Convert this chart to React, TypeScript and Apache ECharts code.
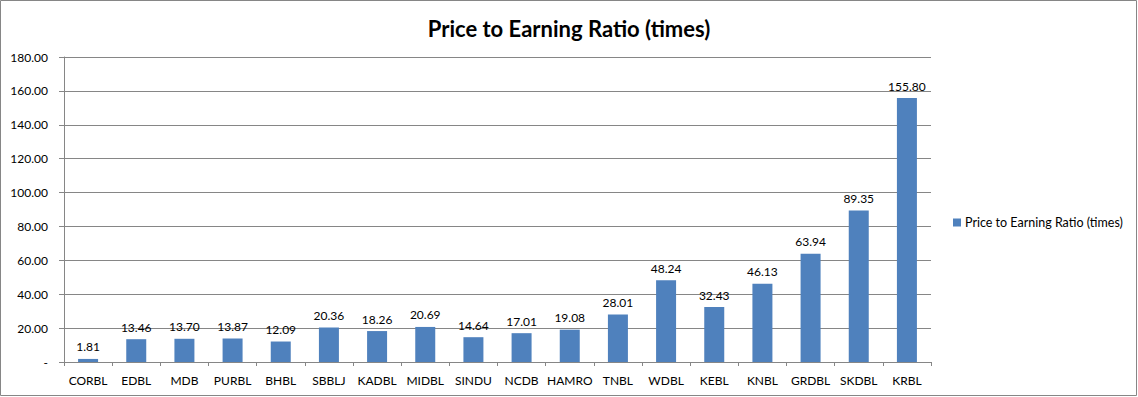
import React, { useEffect, useRef } from "react";
import * as echarts from "echarts";

const categories = ["CORBL", "EDBL", "MDB", "PURBL", "BHBL", "SBBLJ", "KADBL", "MIDBL", "SINDU", "NCDB", "HAMRO", "TNBL", "WDBL", "KEBL", "KNBL", "GRDBL", "SKDBL", "KRBL"];
const values = [1.81, 13.46, 13.7, 13.87, 12.09, 20.36, 18.26, 20.69, 14.64, 17.01, 19.08, 28.01, 48.24, 32.43, 46.13, 63.94, 89.35, 155.8];
const seriesName = "Price to Earning Ratio (times)";
const titleText = "Price to Earning Ratio (times)";

const FONT = "Lato";

export default function App() {
  const ref = useRef<HTMLDivElement>(null);
  useEffect(() => {
    document.body.style.margin = "0";
    const chart = echarts.init(ref.current!, null, { renderer: "svg" });
    chart.setOption({
      animation: false,
      backgroundColor: "#ffffff",
      textStyle: { fontFamily: FONT },
      title: {
        text: titleText,
        left: "center",
        top: 12,
        textStyle: { fontFamily: FONT, fontSize: 22, fontWeight: "bold", color: "#000" },
      },
      graphic: [
        {
          type: "rect",
          shape: { x: 0.5, y: 0.5, width: 1136, height: 395 },
          style: { fill: "none", stroke: "#868686", lineWidth: 1 },
          silent: true,
        },
      ],
      legend: {
        left: 948,
        top: 211,
        itemWidth: 8,
        itemHeight: 8,
        itemGap: 4,
        icon: "rect",
        textStyle: { fontFamily: FONT, fontSize: 12.5, color: "#000", padding: [0, 0, 0, -1] },
        data: [seriesName],
      },
      grid: { left: 64, right: 207, top: 57, bottom: 35, containLabel: false },
      xAxis: {
        type: "category",
        data: categories,
        axisLine: { lineStyle: { color: "#868686" } },
        axisTick: { show: true, length: 4, alignWithLabel: false, lineStyle: { color: "#868686" } },
        axisLabel: { fontFamily: FONT, fontSize: 12, color: "#000", margin: 12, interval: 0 },
      },
      yAxis: {
        type: "value",
        min: 0,
        max: 180,
        interval: 20,
        axisLine: { show: true, lineStyle: { color: "#868686" } },
        axisTick: { show: true, length: 5, lineStyle: { color: "#868686" } },
        splitLine: { lineStyle: { color: "#868686" } },
        axisLabel: {
          fontFamily: FONT,
          fontSize: 12,
          color: "#000",
          margin: 16,
          formatter: (v: number) => (v === 0 ? "-" : v.toFixed(2)),
        },
      },
      series: [
        {
          name: seriesName,
          type: "bar",
          data: values,
          barWidth: 20,
          itemStyle: { color: "#4f81bd" },
          label: {
            show: true,
            position: "top",
            distance: 6,
            fontFamily: FONT,
            fontSize: 12,
            color: "#000",
            formatter: (p: any) => Number(p.value).toFixed(2),
          },
        },
      ],
    });
    return () => chart.dispose();
  }, []);
  return <div ref={ref} style={{ width: 1138, height: 397 }} />;
}
